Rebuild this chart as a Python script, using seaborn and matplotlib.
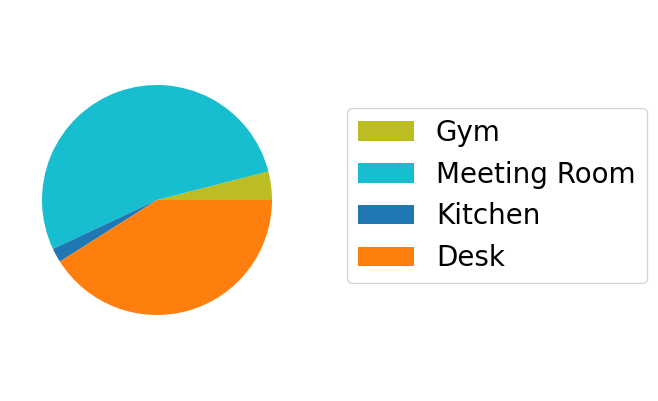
import matplotlib
matplotlib.use('Agg')
import matplotlib.pyplot as plt
import seaborn as sns

# Share of time by location
locations = ['Gym', 'Meeting Room', 'Kitchen', 'Desk']
shares = [4, 53, 2, 41]

tab = sns.color_palette('tab10')
colors = [tab[8], tab[9], tab[0], tab[1]]

plt.rcParams['font.family'] = ['DejaVu Sans']

fig = plt.figure(figsize=(6.58, 4.01), dpi=100)
ax = fig.add_axes([42 / 658, 86 / 401, 230 / 658, 230 / 401])
wedges, _ = ax.pie(shares, colors=colors, startangle=0, counterclock=True,
                   wedgeprops={'linewidth': 0})
ax.set_xlim(-1, 1)
ax.set_ylim(-1, 1)
ax.set_aspect('equal')

fig.legend(wedges, locations, loc='center left',
           bbox_to_anchor=(347 / 658, 1 - 195.5 / 401),
           bbox_transform=fig.transFigure, borderaxespad=0,
           fontsize=20, frameon=True)

fig.savefig('out.png', dpi=100)
plt.close(fig)
